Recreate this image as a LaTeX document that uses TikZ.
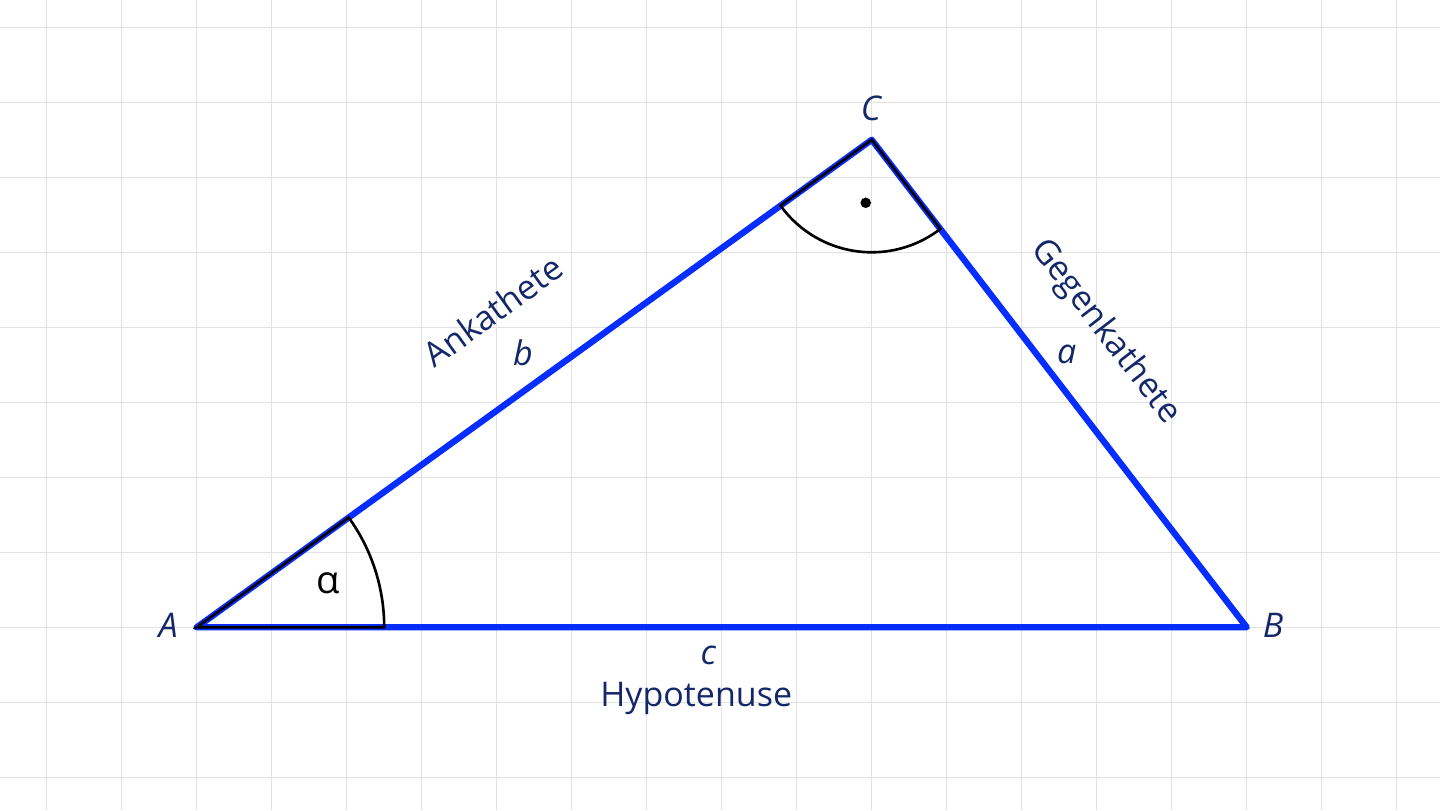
\documentclass[tikz,border=0pt]{standalone}
\usepackage{fontspec}
\setmainfont{Open Sans}
\definecolor{sideblue}{RGB}{5,45,255}
\definecolor{labelnavy}{RGB}{20,40,105}
\definecolor{gridgray}{RGB}{226,226,226}
\begin{document}
\begin{tikzpicture}[
    side/.style={line width=2.4pt, sideblue, line join=round, line cap=round},
    sector/.style={line width=1pt, black},
    lbl/.style={text=labelnavy, font=\fontsize{12.9}{15}\selectfont, inner sep=0pt},
    vertex/.style={lbl, font=\fontsize{12.9}{15}\selectfont\itshape}
  ]
  \useasboundingbox (-2.6227,-2.436) rectangle (16.577,8.364);
  \draw[gridgray, line width=0.5pt] (-2.6227,-2.436) grid (16.577,8.364);

  \coordinate (A) at (0, 0);
  \coordinate (B) at (14, 0);
  \coordinate (C) at (9, 6.5);

  \draw[side] (A) -- (B) -- (C) -- cycle;

  % angle at A
  \draw[sector] (A) -- ++(0:2.5) arc[start angle=0, end angle=35.84, radius=2.5] -- cycle;
  \node[font=\fontsize{14.5}{16}\selectfont, inner sep=0pt] (alpha) at (1.75, 0.59) {α};
  % right angle at C
  \draw[sector] (C) -- ++(215.84:1.5) arc[start angle=215.84, end angle=307.57, radius=1.5] -- cycle;
  \fill (C) ++(-0.08,-0.84) circle (0.07);

  \node[vertex] (labA) at (-0.38, 0.03) {A};
  \node[vertex] (labB) at (14.35, 0.03) {B};
  \node[vertex] (labC) at (8.99, 6.92) {C};

  \node[vertex] (labc) at (6.82, -0.37) {c};
  \node[lbl] (hypotenuse) at (6.66, -0.95) {Hypotenuse};
  \node[vertex] (labb) at (4.35, 3.66) {b};
  \node[lbl, rotate=35.84] (ankathete) at (3.95, 4.22) {Ankathete};
  \node[vertex] (laba) at (11.60, 3.64) {a};
  \node[lbl, rotate=-52.43] (gegenkathete) at (12.11, 3.94) {Gegenkathete};
\end{tikzpicture}
\end{document}
